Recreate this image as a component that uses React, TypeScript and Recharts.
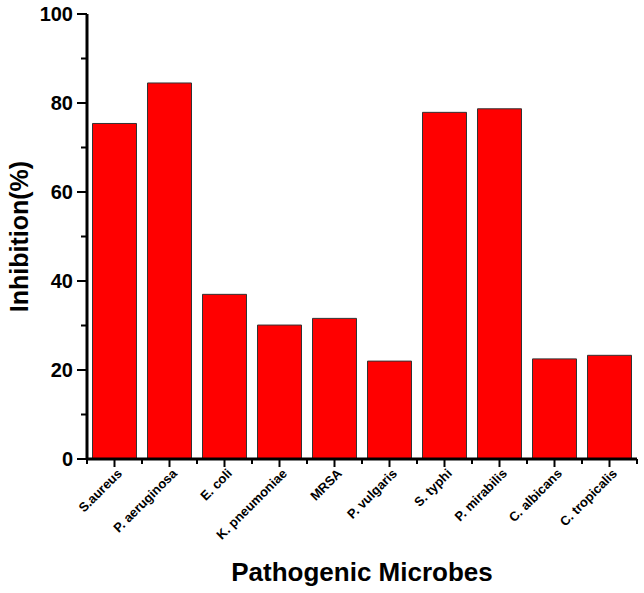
import React from "react";
import { BarChart, Bar, XAxis, YAxis, Label, Text } from "recharts";

const microbes = [
	"S.aureus",
	"P. aeruginosa",
	"E. coli",
	"K. pneumoniae",
	"MRSA",
	"P. vulgaris",
	"S. typhi",
	"P. mirabilis",
	"C. albicans",
	"C. tropicalis",
];
const inhibition = [75.4, 84.5, 37.0, 30.1, 31.6, 22.0, 77.9, 78.7, 22.5, 23.3];
const yTicks = [0, 10, 20, 30, 40, 50, 60, 70, 80, 90, 100];

const data = microbes.map((name, i) => ({ name, value: inhibition[i] }));

const FONT = "'Liberation Sans', Arial, sans-serif";

// y ticks: labelled majors every 20, short minors between
const renderYTick = ({ x, y, payload }: any) => {
	const major = payload.value % 20 === 0;
	return (
		<g key={`y-${payload.value}`}>
			<line x1={x} x2={x - (major ? 10 : 6)} y1={y} y2={y} stroke="#000" strokeWidth={2} />
			{major && (
				<text x={x - 14} y={y} dy={7} textAnchor="end" fontSize={20} fontWeight="bold" fontFamily={FONT} fill="#000">
					{payload.value}
				</text>
			)}
		</g>
	);
};

// x ticks: major under each bar, minor at category boundaries, labels at 45°
const renderXTick = ({ x, y, payload }: any) => {
	const half = 27.5;
	return (
		<g key={`x-${payload.value}`}>
			<line x1={x} x2={x} y1={y} y2={y + 8} stroke="#000" strokeWidth={2} />
			<line x1={x - half} x2={x - half} y1={y} y2={y + 5} stroke="#000" strokeWidth={2} />
			<line x1={x + half} x2={x + half} y1={y} y2={y + 5} stroke="#000" strokeWidth={2} />
			<Text
				x={x + 5}
				y={y + 12}
				angle={-45}
				textAnchor="end"
				verticalAnchor="middle"
				fontSize={13}
				fontWeight="bold"
				fontFamily={FONT}
				fill="#000"
			>
				{payload.value}
			</Text>
		</g>
	);
};

const YTitle = ({ viewBox }: any) => {
	const cy = viewBox.y + viewBox.height / 2;
	return (
		<g transform={`translate(28, ${cy}) rotate(-90)`}>
			<text x={0} y={0} textAnchor="middle" fontSize={25} fontWeight="bold" fontFamily={FONT} fill="#000">
				Inhibition(%)
			</text>
		</g>
	);
};

export default function App() {
	return (
		<div style={{ position: "absolute", left: 0, top: 0, background: "#fff" }}>
			<BarChart width={644} height={593} data={data} margin={{ top: 14, right: 7, left: 0, bottom: 0 }} barCategoryGap="10%">
				<XAxis xAxisId="top" orientation="top" dataKey="name" height={0} tick={false} tickLine={false} axisLine={{ stroke: "#000", strokeWidth: 2 }} />
				<XAxis
					dataKey="name"
					height={134}
					interval={0}
					tickSize={0}
					tickMargin={0}
					tickLine={false}
					tick={renderXTick}
					axisLine={{ stroke: "#000", strokeWidth: 3 }}
				>
					<Label value="Pathogenic Microbes" position="insideBottom" offset={12} style={{ fontSize: 26, fontWeight: "bold", fontFamily: FONT, fill: "#000" }} />
				</XAxis>
				<YAxis yAxisId="right" orientation="right" width={0} domain={[0, 100]} tick={false} tickLine={false} axisLine={{ stroke: "#000", strokeWidth: 2 }} />
				<YAxis
					width={87}
					domain={[0, 100]}
					ticks={yTicks}
					interval={0}
					tickSize={0}
					tickMargin={0}
					tickLine={false}
					tick={renderYTick}
					axisLine={{ stroke: "#000", strokeWidth: 3 }}
				>
					<Label content={<YTitle />} />
				</YAxis>
				<Bar dataKey="value" fill="#ff0000" stroke="#333" strokeWidth={1} isAnimationActive={false} />
			</BarChart>
		</div>
	);
}
